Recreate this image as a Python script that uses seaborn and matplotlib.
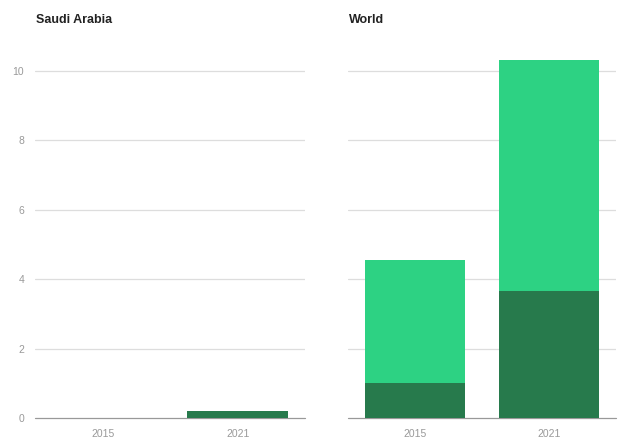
import matplotlib
matplotlib.use("Agg")
import matplotlib.pyplot as plt
import seaborn as sns
import pandas as pd

years = ["2015", "2021"]
regions = ["Saudi Arabia", "World"]
saudi_total = [0.0, 0.2]
saudi_dark = [0.0, 0.2]
world_total = [4.55, 10.3]
world_dark = [1.02, 3.66]
y_ticks = [0, 2, 4, 6, 8, 10]

light_green = "#2dd283"
dark_green = "#277a4c"

sns.set_theme(style="white")
plt.rcParams["font.family"] = ["Liberation Sans", "DejaVu Sans"]

fig = plt.figure(figsize=(6.27, 4.41), dpi=100)
ax_left = fig.add_axes([0.056, 0.052, 0.431, 0.835])
ax_right = fig.add_axes([0.555, 0.052, 0.427, 0.835])

panels = [
    (ax_left, regions[0], saudi_total, saudi_dark),
    (ax_right, regions[1], world_total, world_dark),
]

for ax, name, total, dark in panels:
    df = pd.DataFrame({"year": years, "total": total, "dark": dark})
    sns.barplot(data=df, x="year", y="total", color=light_green, saturation=1,
                width=0.75, ax=ax, zorder=2, linewidth=0, edgecolor="none")
    sns.barplot(data=df, x="year", y="dark", color=dark_green, saturation=1,
                width=0.75, ax=ax, zorder=3, linewidth=0, edgecolor="none")
    ax.set_xlim(-0.5, 1.5)
    ax.set_ylim(0, 10.6)
    ax.set_yticks(y_ticks)
    for t in y_ticks[1:]:
        ax.axhline(t, color="#dddddd", lw=0.9, zorder=1)
    ax.axhline(0, color="#999999", lw=0.9, zorder=1.5, clip_on=False)
    for s in ax.spines.values():
        s.set_visible(False)
    ax.set_xlabel("")
    ax.set_ylabel("")
    ax.tick_params(axis="x", length=3, color="#aaaaaa", labelsize=7.5,
                   labelcolor="#999999", pad=5)
    ax.tick_params(axis="y", length=0, labelsize=7.5, labelcolor="#999999", pad=8)
    ax.text(0.005, 1.065, name, transform=ax.transAxes, fontsize=9,
            fontweight="bold", color="#222222", ha="left", va="bottom")

ax_right.set_yticklabels([])

fig.savefig("out.png", dpi=100)
